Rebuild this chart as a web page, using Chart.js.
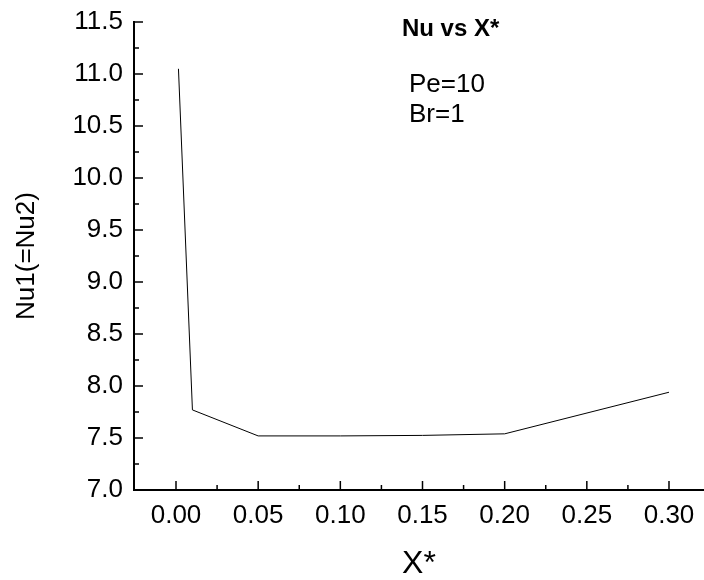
<html lang="en">

<body style="margin:0;background:#fff">
<div style="width:704px;height:580px">
    <canvas id="myChart" width="704" height="580"></canvas>
</div>

<script src="https://cdn.jsdelivr.net/npm/chart.js"></script>
<script>
    // data
    const xs = [0.0015, 0.01, 0.05, 0.10, 0.15, 0.20, 0.30]
    const nu = [11.05, 7.77, 7.52, 7.52, 7.525, 7.54, 7.94]

    const xTicks = [0.00, 0.05, 0.10, 0.15, 0.20, 0.25, 0.30]
    const xTickLabels = ['0.00', '0.05', '0.10', '0.15', '0.20', '0.25', '0.30']
    const xMinor = [0.025, 0.075, 0.125, 0.175, 0.225, 0.275, 0.325]
    const yTicks = [7.0, 7.5, 8.0, 8.5, 9.0, 9.5, 10.0, 10.5, 11.0, 11.5]
    const yTickLabels = ['7.0', '7.5', '8.0', '8.5', '9.0', '9.5', '10.0', '10.5', '11.0', '11.5']
    const yMinor = [7.25, 7.75, 8.25, 8.75, 9.25, 9.75, 10.25, 10.75, 11.25]

    // text inside the plot, placed in data units
    const notes = [
        {text: 'Nu vs X*', x: 0.1375, y: 11.365, bold: true},
        {text: 'Pe=10', x: 0.1418, y: 10.83, bold: false},
        {text: 'Br=1', x: 0.1418, y: 10.54, bold: false}
    ]

    const FONT = '"Liberation Sans", Arial, sans-serif'

    // ticks point inward, Origin style
    const innerTicks = {
        id: 'innerTicks',
        afterDraw(chart) {
            const c = chart.ctx
            const xs_ = chart.scales.x, ys_ = chart.scales.y
            const a = chart.chartArea
            c.save()
            c.strokeStyle = '#000'
            c.lineWidth = 1.5
            const xt = (v, len) => {
                const px = xs_.getPixelForValue(v)
                if (px < a.left || px > a.right) return
                c.beginPath(); c.moveTo(px, a.bottom); c.lineTo(px, a.bottom - len); c.stroke()
            }
            const yt = (v, len) => {
                const py = ys_.getPixelForValue(v)
                c.beginPath(); c.moveTo(a.left, py); c.lineTo(a.left + len, py); c.stroke()
            }
            xTicks.forEach(v => xt(v, 9))
            xMinor.forEach(v => xt(v, 5))
            yTicks.forEach(v => yt(v, 9))
            yMinor.forEach(v => yt(v, 5))

            c.fillStyle = '#000'
            c.textBaseline = 'alphabetic'
            notes.forEach(n => {
                c.font = (n.bold ? 'bold 24px ' : '26px ') + FONT
                c.fillText(n.text, xs_.getPixelForValue(n.x), ys_.getPixelForValue(n.y))
            })
            c.restore()
        }
    }

    const ctx = document.getElementById('myChart')
    let chart = new Chart(ctx, {
        type: 'line',
        data: {
            datasets: [{
                data: xs.map((x, i) => ({x: x, y: nu[i]})),
                borderColor: '#000',
                borderWidth: 1,
                pointRadius: 0,
                tension: 0
            }]
        },
        options: {
            responsive: false,
            animation: false,
            devicePixelRatio: 1,
            layout: {padding: {top: 22, right: 0, left: 0, bottom: 0}},
            plugins: {legend: {display: false}, tooltip: {enabled: false}},
            scales: {
                x: {
                    type: 'linear',
                    min: -0.02556,
                    max: 0.3213,
                    afterBuildTicks: s => { s.ticks = xTicks.map(v => ({value: v})) },
                    afterFit: s => { s.height = 90; s.paddingLeft = 0; s.paddingRight = 0 },
                    grid: {display: false, drawTicks: false},
                    border: {display: true, color: '#000', width: 2},
                    ticks: {
                        color: '#000',
                        font: {family: FONT, size: 26},
                        padding: 10,
                        maxRotation: 0,
                        autoSkip: false,
                        callback: (v, i) => xTickLabels[i]
                    },
                    title: {
                        display: true, text: 'X*', color: '#000',
                        font: {family: FONT, size: 32, lineHeight: 1},
                        padding: {top: 0, bottom: 0}
                    }
                },
                y: {
                    min: 7.0,
                    max: 11.5,
                    afterBuildTicks: s => { s.ticks = yTicks.map(v => ({value: v})) },
                    afterFit: s => { s.width = 134; s.paddingTop = 0; s.paddingBottom = 0 },
                    grid: {display: false, drawTicks: false},
                    border: {display: true, color: '#000', width: 2},
                    ticks: {
                        color: '#000',
                        font: {family: FONT, size: 26},
                        padding: 11,
                        autoSkip: false,
                        callback: (v, i) => yTickLabels[i]
                    },
                    title: {
                        display: true, text: 'Nu1(=Nu2)', color: '#000',
                        font: {family: FONT, size: 26, lineHeight: 1},
                        padding: {top: 14, bottom: 0}
                    }
                }
            }
        },
        plugins: [innerTicks]
    })
</script>
</body>
</html>
